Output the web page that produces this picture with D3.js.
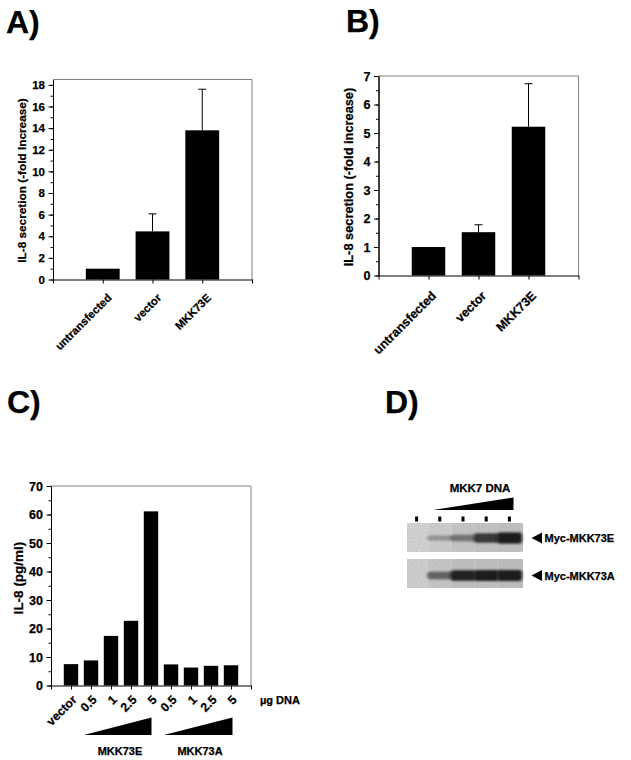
<!DOCTYPE html>
<html>
<head>
<meta charset="utf-8">
<script src="https://d3js.org/d3.v7.min.js"></script>
<style>
  body { margin: 0; background: #fff; }
  svg text { font-family: "Liberation Sans", Arial, sans-serif; font-weight: bold; fill: #000; stroke: #000; stroke-width: 0.25px; }
</style>
</head>
<body>
<svg id="fig" width="631" height="760"></svg>
<script>
  // panel A / B data
  var categoriesAB = ["untransfected", "vector", "MKK73E"];
  var valuesA = [1.0, 4.45, 13.8];
  var errorsA = [0, 1.62, 3.8];
  var ticksA = [0, 2, 4, 6, 8, 10, 12, 14, 16, 18];
  var valuesB = [1.0, 1.52, 5.22];
  var errorsB = [0, 0.26, 1.51];
  var ticksB = [0, 1, 2, 3, 4, 5, 6, 7];

  // panel C data
  var labelsC = ["vector", "0.5", "1", "2.5", "5", "0.5", "1", "2.5", "5"];
  var valuesC = [7.5, 8.8, 17.4, 22.7, 61.1, 7.4, 6.3, 6.9, 7.1];
  var ticksC = [0, 10, 20, 30, 40, 50, 60, 70];
  var groupsC = ["MKK73E", "MKK73A"];
  var groupSpanC = [[1, 4], [5, 8]];   // bar index: first, last

  // panel D blot
  var lanesD = ["1", "2", "3", "4", "5"];
  var bandsE = [0, 0.3, 0.45, 0.78, 0.97];
  var bandsA = [0, 0.55, 0.92, 0.94, 0.97];
  var shadeE = ["#dedede", "#d8d8d8", "#d0d0d0", "#cecece", "#cccccc"];
  var shadeA = ["#dadada", "#d0d0d0", "#cacaca", "#cbcbcb", "#c9c9c9"];
  var blotNames = ["Myc-MKK73E", "Myc-MKK73A"];

  var svg = d3.select("#fig");
  var defs = svg.append("defs");
  defs.append("filter").attr("id", "blur").attr("x", "-50%").attr("y", "-100%")
    .attr("width", "200%").attr("height", "300%")
    .append("feGaussianBlur").attr("stdDeviation", "1.8 1.3");
  var grain = defs.append("filter").attr("id", "grain");
  grain.append("feTurbulence").attr("type", "fractalNoise").attr("baseFrequency", "0.8").attr("numOctaves", 2).attr("seed", 3);
  grain.append("feColorMatrix").attr("values", "0 0 0 0 0  0 0 0 0 0  0 0 0 0 0  0 0 0 0.14 0");
  grain.append("feComposite").attr("in2", "SourceGraphic").attr("operator", "in");

  function title(txt, x, y) {
    svg.append("text").attr("x", x).attr("y", y).style("font-size", "32px").text(txt);
  }

  function styleAxis(g, fs) {
    g.attr("font-family", null).attr("font-size", null);
    g.select(".domain").attr("stroke", "#000");
    g.selectAll(".tick line").attr("stroke", "#000");
    g.selectAll(".tick text").style("font-size", fs + "px");
  }

  function barPanel(o) {
    var n = o.cats.length;
    var g = svg.append("g");
    var x = d3.scaleLinear().domain([0, n + 1]).range([o.left, o.right]);
    var y = d3.scaleLinear().domain([0, o.yMax]).range([o.bottom, o.top]);
    var bw = (x(1) - x(0)) * o.barFrac;

    g.append("path")
      .attr("d", "M" + o.left + "," + o.top + "H" + o.right + "V" + o.bottom)
      .attr("fill", "none").attr("stroke", "#808080").attr("stroke-width", 1);

    g.selectAll("rect.bar").data(o.values).join("rect")
      .attr("class", "bar")
      .attr("x", function(d, i) { return x(i + 1) - bw / 2; })
      .attr("y", function(d) { return y(d); })
      .attr("width", bw)
      .attr("height", function(d) { return y(0) - y(d); })
      .attr("fill", "#000");

    if (o.errors) {
      var idx = d3.range(n).filter(function(i) { return o.errors[i] > 0; });
      g.selectAll("line.err").data(idx).join("line").attr("class", "err")
        .attr("x1", function(i) { return x(i + 1); })
        .attr("x2", function(i) { return x(i + 1); })
        .attr("y1", function(i) { return y(o.values[i]); })
        .attr("y2", function(i) { return y(o.values[i] + o.errors[i]); })
        .attr("stroke", "#000");
      g.selectAll("line.cap").data(idx).join("line").attr("class", "cap")
        .attr("x1", function(i) { return x(i + 1) - 4; })
        .attr("x2", function(i) { return x(i + 1) + 4; })
        .attr("y1", function(i) { return y(o.values[i] + o.errors[i]); })
        .attr("y2", function(i) { return y(o.values[i] + o.errors[i]); })
        .attr("stroke", "#000");
    }

    // minor ticks then major
    g.append("g").attr("transform", "translate(" + o.left + ",0)")
      .call(d3.axisLeft(y).tickValues(d3.range(0, o.yMax + 1e-9, o.minor)).tickSize(2.5).tickSizeOuter(0).tickFormat(""))
      .call(styleAxis, o.tickFont);
    g.append("g").attr("transform", "translate(" + o.left + ",0)")
      .call(d3.axisLeft(y).tickValues(o.ticks).tickSize(4.5).tickSizeOuter(0).tickPadding(3.5).tickFormat(d3.format("d")))
      .call(styleAxis, o.tickFont);

    var xa = g.append("g").attr("transform", "translate(0," + o.bottom + ")")
      .call(d3.axisBottom(x).tickValues(d3.range(0, n + 2)).tickSize(4).tickSizeOuter(0)
        .tickFormat(function(i) { return o.cats[i - 1] || ""; }))
      .call(styleAxis, o.xFont);
    xa.selectAll(".tick text")
      .attr("y", null).attr("dy", null)
      .attr("text-anchor", "end")
      .attr("transform", "translate(" + o.xdx + "," + o.xdy + ") rotate(-45)");

    g.append("text")
      .attr("transform", "translate(" + o.labelX + "," + o.labelY + ") rotate(-90)")
      .attr("text-anchor", "middle")
      .style("font-size", o.labelFont + "px")
      .text(o.yLabel);
    return { x: x, y: y, bw: bw };
  }

  // ---- A ----
  title("A)", 6, 33);
  barPanel({ left: 53, right: 252, top: 79.5, bottom: 279.5, yMax: 18.5, cats: categoriesAB,
    values: valuesA, errors: errorsA, ticks: ticksA, minor: 1, barFrac: 0.68,
    tickFont: 11.5, xFont: 11.2, xdx: 9, xdy: 19, labelX: 26, labelY: 180.5, labelFont: 11.8,
    yLabel: "IL-8 secretion (-fold Increase)" });

  // ---- B ----
  title("B)", 346, 32);
  barPanel({ left: 378.5, right: 578.5, top: 76, bottom: 275.5, yMax: 7, cats: categoriesAB,
    values: valuesB, errors: errorsB, ticks: ticksB, minor: 0.5, barFrac: 0.67,
    tickFont: 12.5, xFont: 12.5, xdx: 8, xdy: 21, labelX: 353, labelY: 177, labelFont: 12.8,
    yLabel: "IL-8 secretion (-fold increase)" });

  // ---- C ----
  title("C)", 7, 413);
  var c = barPanel({ left: 51, right: 251, top: 486, bottom: 685.5, yMax: 70, cats: labelsC,
    values: valuesC, ticks: ticksC, minor: 5, barFrac: 0.72,
    tickFont: 12.5, xFont: 12.2, xdx: 6, xdy: 15, labelX: 23, labelY: 578, labelFont: 13.5,
    yLabel: "IL-8 (pg/ml)" });
  svg.append("text").attr("x", 260).attr("y", 704).style("font-size", "11px").text("\u00b5g DNA");
  groupSpanC.forEach(function(s, k) {
    var x0 = c.x(s[0] + 1) - c.bw / 2, x1 = c.x(s[1] + 1) + (k === 1 ? 1.5 : 0.5);
    svg.append("path")
      .attr("d", "M" + x0 + ",735L" + x1 + ",735L" + x1 + ",717.5Z")
      .attr("fill", "#000");
    svg.append("text").attr("x", (c.x(s[0] + 1) + c.x(s[1] + 1)) / 2 - 1).attr("y", 755)
      .attr("text-anchor", "middle").style("font-size", "11px").text(groupsC[k]);
  });

  // ---- D ----
  title("D)", 385, 413);
  var xl = d3.scaleBand().domain(lanesD).range([405, 521]);
  svg.append("text").attr("x", 480).attr("y", 492).attr("text-anchor", "middle")
    .style("font-size", "11.5px").text("MKK7 DNA");
  svg.append("path").attr("d", "M433,510L513.5,510L513.5,497.5Z").attr("fill", "#000");
  svg.selectAll("rect.mark").data(lanesD).join("rect").attr("class", "mark")
    .attr("x", function(d) { return xl(d) + xl.bandwidth() / 2 - 1.5; })
    .attr("y", 516.5).attr("width", 3).attr("height", 5).attr("fill", "#000");

  [{ top: 523, bands: bandsE, shade: shadeE, cy: 538 }, { top: 559, bands: bandsA, shade: shadeA, cy: 575.5 }]
    .forEach(function(b, k) {
      var g = svg.append("g");
      g.selectAll("rect.lane").data(lanesD).join("rect")
        .attr("x", function(d, i) { return i === 0 ? 407 : xl(d); })
        .attr("y", b.top)
        .attr("width", function(d, i) { return i === 0 ? xl(d) + xl.bandwidth() - 407 : (i === 4 ? 523 - xl(d) : xl.bandwidth()); })
        .attr("height", 29)
        .attr("fill", function(d, i) { return b.shade[i]; });
      g.append("rect").attr("x", 407).attr("y", b.top).attr("width", 116).attr("height", 29)
        .attr("fill", "#000").attr("filter", "url(#grain)");
      g.selectAll("rect.band").data(b.bands).join("rect")
        .attr("x", function(d, i) { return xl(lanesD[i]) - 1; })
        .attr("width", xl.bandwidth() + 2)
        .attr("y", function(d) { return b.cy - (1.2 + d * 4.5); })
        .attr("height", function(d) { return 2 * (1.2 + d * 4.5); })
        .attr("rx", 3)
        .attr("fill", "#1a1a1a")
        .attr("opacity", function(d) { return Math.min(1, d * 1.05); })
        .attr("filter", "url(#blur)");
      g.append("path")
        .attr("d", "M531.5," + b.cy + "L542," + (b.cy - 5.5) + "L542," + (b.cy + 5.5) + "Z")
        .attr("fill", "#000");
      g.append("text").attr("x", 544.5).attr("y", b.cy + 4).style("font-size", "11px").text(blotNames[k]);
    });
</script>
</body>
</html>
